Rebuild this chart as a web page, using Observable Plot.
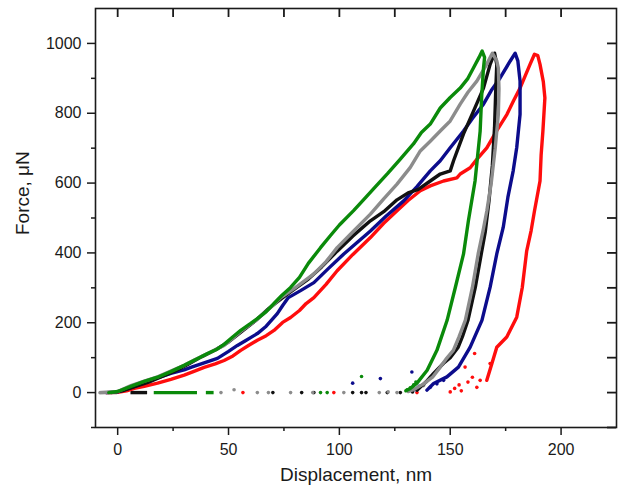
<!DOCTYPE html>
<html><head><meta charset="utf-8">
<script src="https://cdn.jsdelivr.net/npm/d3@7"></script>
<script src="https://cdn.jsdelivr.net/npm/@observablehq/plot@0.6"></script>
<style>body{margin:0;background:#fff}</style>
</head><body><div id="chart"></div>
<script>
const xTicks = [0, 50, 100, 150, 200];
const xMinorTicks = [25, 75, 125, 175];
const yTicks = [0, 200, 400, 600, 800, 1000];
const yMinorTicks = [-100, 100, 300, 500, 700, 900];
const xLabel = "Displacement, nm";
const yLabel = "Force, μN";
const seriesNames = ["red", "blue", "black", "gray", "green"];
const seriesColors = ["#ff0d0d", "#0c0c8c", "#111111", "#8c8c8c", "#0a8a0a"];

const redCurve = [[-5,0],[0,1],[4,5],[7.5,12],[12,18],[18,27],[24,38],[30,50],[35,62],[39,72],[44,82],[48,92],[52,105],[55.5,121],[59,135],[63,150],[67,163],[70.5,178],[74.4,201],[78,215],[82,235],[85,255],[88.5,272],[94,310],[99,349],[106,395],[114,444],[120,485],[126,521],[131,550],[136.5,578],[141,592],[147,606],[153,615],[154.5,626],[159,644],[162,668],[166.5,701],[171,750],[175.6,797],[178.5,835],[181.5,872],[184,910],[186,940],[188,969],[189.5,965],[190.5,940],[192,890],[192.7,844],[191.8,749],[191,680],[190.5,606],[188,520],[186.5,464],[184.5,406],[182.5,301],[180,216],[175.5,159],[171,130],[168.8,83],[166.5,35]];
const blueCurve = [[-5,0],[0,2],[6,14],[12,28],[18,42],[24,55],[30,65],[33,72],[39,85],[45,98],[50,118],[54,135],[58,150],[63,169],[67,190],[72,226],[74.5,250],[77,272],[82.5,292],[88.5,315],[95,355],[102,397],[108,430],[114,463],[121,505],[129,549],[135,590],[141,635],[145.5,664],[150,701],[156,749],[160,785],[165,826],[168.5,865],[172.5,901],[177,949],[179.3,972],[180.5,950],[181.5,892],[181.5,797],[180,702],[178.4,635],[176,559],[173.9,473],[171,397],[168,302],[164.3,207],[159,130],[153.7,73],[148.5,45],[142.5,26],[139.5,7]];
const blackCurve = [[-3,0],[2,5],[8,18],[14,30],[20,46],[26,62],[32,82],[38,103],[44,122],[50,145],[56,175],[62,205],[68,240],[74,270],[80,298],[86,325],[92,360],[99,405],[106,448],[114,492],[120,518],[126,552],[131,572],[135.6,582],[141,606],[145.5,626],[150,635],[151.5,664],[156,741],[160.5,806],[165,872],[168,940],[170,972],[171,940],[170.5,860],[170,760],[169,650],[167.5,550],[165.8,460],[164,397],[161.3,301],[158,207],[155.5,160],[153.6,130],[150,100],[147,84],[142.5,55],[139,30],[135,7]];
const grayCurve = [[-8,0],[0,3],[6,20],[12,33],[18,45],[24,62],[30,78],[35,95],[40.6,112],[48,135],[55.5,175],[63,210],[70.5,252],[73.6,272],[80,300],[88.5,340],[94,375],[99,415],[106,460],[114,511],[120,555],[126,597],[132,645],[136.5,692],[141,720],[145.5,749],[150,778],[154.5,826],[158,860],[162,892],[166,935],[169,972],[171,950],[171.7,929],[172,870],[171.7,797],[170.3,700],[168.5,600],[166.5,520],[165,470],[162.6,397],[160,301],[156.8,207],[154,160],[151.4,121],[148,95],[145.5,73],[142,44],[138,25],[134,10],[131,3]];
const greenCurve = [[-4,0],[0,3],[6,18],[12,32],[18,44],[24,60],[30,78],[35,94],[40.6,112],[45,125],[48,138],[52,160],[55.5,178],[60,198],[63,212],[67,232],[70.5,255],[74,278],[78,301],[82,330],[86,370],[91.5,415],[96,450],[100,480],[106.4,521],[112,560],[116,588],[121.7,627],[127,665],[133.4,712],[137,745],[141,769],[145.5,815],[150,845],[154.5,872],[158,900],[160.4,929],[163,960],[164.4,978],[165.5,960],[165,929],[164.2,850],[163.5,749],[161.2,606],[158.2,492],[156,397],[152.3,301],[148.6,207],[144,121],[139.6,64],[135,27],[132,12],[130,5]];

// retraction dashes along zero force: [series, from, to]
const zeroDashes = [["gray",-8,0],["black",6,13.5],["green",16.5,36],["green",40,43.5]];
// scattered points near zero force after unloading
const redTail = [[56.5,0],[97.5,0],[135,0],[150,2],[152,12],[154,22],[155,5],[156.7,73],[158,30],[160,44],[161,112],[162,15],[163.5,35],[168,83]];
const blueTail = [[106,27],[118.5,40],[132.7,59],[134,8],[136,18],[141,15],[144,25],[147,35]];
const blackTail = [[70,0],[83,0],[88.5,0],[106,0],[110,0],[112,0],[121.6,0],[127.5,0],[133,2],[135,12]];
const grayTail = [[46.6,0],[52.5,8],[63,0],[68,0],[78,0],[88,0],[102,0],[118,0],[122,2],[126,0],[131,6],[133,15],[138,20]];
const greenTail = [[91.5,0],[94.5,0],[110,46],[130.6,8],[132,14],[133.5,22],[134.5,30]];

const curves = {red: redCurve, blue: blueCurve, black: blackCurve, gray: grayCurve, green: greenCurve};
const tails = {red: redTail, blue: blueTail, black: blackTail, gray: grayTail, green: greenTail};
const colorOf = Object.fromEntries(seriesNames.map((n, i) => [n, seriesColors[i]]));

const lineMarks = seriesNames.map(n => Plot.line(curves[n], {
  x: d => d[0], y: d => d[1], stroke: colorOf[n], strokeWidth: 3.4, strokeLinejoin: "round", strokeLinecap: "round"
}));
const tailMarks = seriesNames.map(n => Plot.dot(tails[n], {
  x: d => d[0], y: d => d[1], fill: colorOf[n], r: 1.8, stroke: null
}));

const W = 628, H = 494, ML = 95, MR = 12, MT = 8, MB = 67;
const xDomain = [-10, 225], yDomain = [-100, 1100];
const tickPx = 9;
const tickLenX = (xDomain[1] - xDomain[0]) * tickPx / (W - ML - MR);
const tickLenY = (yDomain[1] - yDomain[0]) * tickPx / (H - MT - MB);
const fontFamily = "'Liberation Sans', Arial, sans-serif";
const fmt = d => String(d);
const chart = Plot.plot({
  width: W, height: H,
  marginLeft: ML, marginRight: MR, marginTop: MT, marginBottom: MB,
  x: {domain: xDomain},
  y: {domain: yDomain},
  style: {fontFamily, fontSize: "16px", color: "#1a1a1a", background: "#fff"},
  marks: [
    Plot.ruleY(zeroDashes, {y: () => 0, x1: d => d[1], x2: d => d[2], stroke: d => colorOf[d[0]], strokeWidth: 3.4}),
    ...tailMarks,
    ...lineMarks,
    Plot.frame({strokeWidth: 1.6}),
    Plot.axisX({anchor: "bottom", ticks: xTicks, tickSize: 8, tickPadding: 8, strokeWidth: 1.5, fontSize: 16, tickFormat: fmt, label: null}),
    Plot.axisX({anchor: "bottom", ticks: xMinorTicks, tickSize: 4, strokeWidth: 1.5, tickFormat: () => "", label: null}),
    Plot.ruleX([...xTicks, ...xMinorTicks], {x: d => d, y1: () => yDomain[1], y2: () => yDomain[1] - tickLenY, stroke: "#1a1a1a", strokeWidth: 1.8}),
    Plot.axisY({anchor: "left", ticks: yTicks, tickSize: 8, tickPadding: 6, strokeWidth: 1.5, fontSize: 16, tickFormat: fmt, label: null}),
    Plot.axisY({anchor: "left", ticks: yMinorTicks, tickSize: 4, strokeWidth: 1.5, tickFormat: () => "", label: null}),
    Plot.ruleY([...yTicks, ...yMinorTicks], {y: d => d, x1: () => xDomain[1] - tickLenX, x2: () => xDomain[1], stroke: "#1a1a1a", strokeWidth: 1.8}),
    Plot.text([xLabel], {text: d => d, frameAnchor: "bottom", dy: 53, fontSize: 19}),
    Plot.text([yLabel], {text: d => d, frameAnchor: "left", dx: -73, dy: 17, rotate: -90, fontSize: 19})
  ]
});
document.getElementById("chart").appendChild(chart);
</script>
</body></html>
